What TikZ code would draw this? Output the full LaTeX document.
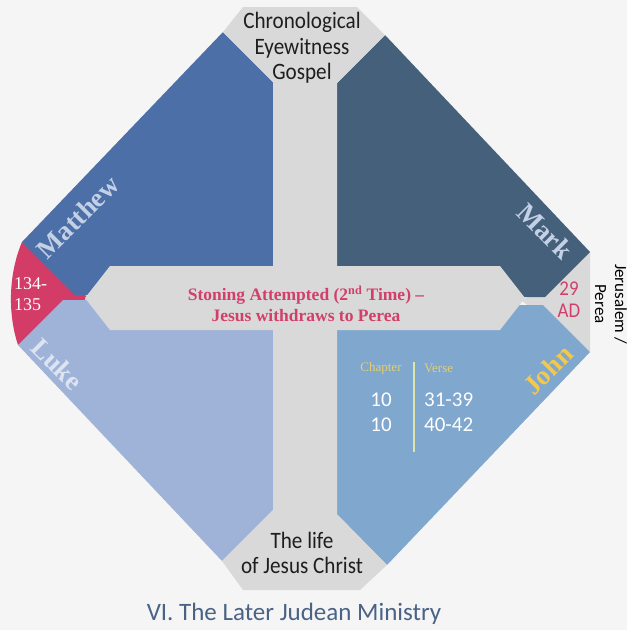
\documentclass[tikz,border=0pt]{standalone}
\usepackage{fontspec}
\setmainfont{Liberation Serif}
\newfontfamily\condsans[FakeStretch=0.9]{Carlito}
\newfontfamily\plainsans{Carlito}
\definecolor{bgc}{HTML}{F5F5F5}
\definecolor{grayc}{HTML}{D9D9D9}
\definecolor{redc}{HTML}{D23C66}
\definecolor{matc}{HTML}{4B6FA6}
\definecolor{markc}{HTML}{44607A}
\definecolor{lukec}{HTML}{9FB2D8}
\definecolor{johnc}{HTML}{80A7CE}
\definecolor{pinkc}{HTML}{D13F6A}
\definecolor{lbl}{HTML}{C3D0E6}
\definecolor{lukelbl}{HTML}{DCE4F2}
\definecolor{johnlbl}{HTML}{F2C94C}
\definecolor{yelc}{HTML}{E3CF6F}
\definecolor{divc}{HTML}{DDE5A8}
\definecolor{titlec}{HTML}{4A6385}
\definecolor{darktext}{HTML}{1E1E1E}
\begin{document}
\begin{tikzpicture}[x=1pt,y=-1pt,
  booklbl/.style={font=\bfseries\fontsize{27}{27}\selectfont, inner sep=0pt},
  captext/.style={font=\condsans\fontsize{23.5}{25.5}\selectfont, text=darktext, align=center, inner sep=0pt},
  numtext/.style={font=\plainsans\fontsize{21}{21}\selectfont, text=white, inner sep=0pt},
  headtext/.style={font=\fontsize{13}{13}\selectfont, text=yelc, inner sep=0pt}]
\fill[bgc] (0,0) rectangle (627,630);
\useasboundingbox (0,0) rectangle (627,630);
% end pieces
\fill[redc] (22,242) .. controls (8,275) and (8,315) .. (18,345) -- (88,297.5) -- cycle;
\fill[grayc] (522,301) -- (590,252) -- (590,352) -- cycle;
% quadrants
\fill[matc] (223,32) -- (280,89) -- (280,295) -- (75,295) -- (22,242) -- cycle;
\fill[markc] (385,35) -- (330,90) -- (330,297) -- (545,297) -- (590,252) -- cycle;
\fill[lukec] (18,345) -- (63,300) -- (280,300) -- (280,503) -- (222,561) -- cycle;
\fill[johnc] (330,305) -- (543,305) -- (590,352) -- (387,565) -- (330,508) -- cycle;
% gray cross
\fill[grayc] (243,7) -- (357,7) -- (385,35) -- (337,83) -- (337,514) -- (387,565)
  -- (360,590) -- (243,590) -- (222,561) -- (273,510) -- (273,82) -- (223,32) -- cycle;
\fill[grayc] (85,298) -- (110,266) -- (500,266) -- (525,298) -- (500,330) -- (110,330) -- cycle;
% texts
\node[captext] (topcap) at (302,48) {Chronological\\Eyewitness\\Gospel};
\node[captext] (botcap) at (302,553) {The life\\of Jesus Christ};
\node[font=\bfseries\fontsize{17.5}{21}\selectfont, text=pinkc, align=center, inner sep=0pt] (event) at (306,304)
  {Stoning Attempted (2\textsuperscript{nd} Time) --\\Jesus withdraws to Perea};
\node[booklbl, rotate=45, text=lbl] (matlbl) at (78,217) {Matthew};
\node[booklbl, rotate=-45, text=lbl] (marklbl) at (545,231) {Mark};
\node[booklbl, rotate=-45, text=lukelbl] (lukelbl) at (57,364) {Luke};
\node[booklbl, rotate=45, text=johnlbl] (johnlbl) at (548,370) {John};
\node[font=\fontsize{18}{21}\selectfont, text=white, align=left, anchor=west, inner sep=0pt] (years) at (14,294) {134-\\135};
\node[font=\condsans\fontsize{21}{22}\selectfont, text=pinkc, align=center, inner sep=0pt] (date) at (569,300) {29\\AD};
\node[font=\plainsans\fontsize{17}{20}\selectfont, text=black, align=center, rotate=-90, inner sep=0pt] (place) at (611,304) {Jerusalem /\\Perea};
\node[headtext] (chap) at (381,368) {Chapter};
\node[headtext, anchor=west] (verse) at (424,368) {Verse};
\node[numtext] (c1) at (381,400) {10};
\node[numtext] (c2) at (381,425) {10};
\node[numtext, anchor=west] (v1) at (424,400) {31-39};
\node[numtext, anchor=west] (v2) at (424,425) {40-42};
\coordinate (divtop) at (414,362);
\coordinate (divbot) at (414,452);
\draw[divc, line width=1.3pt] (divtop) -- (divbot);
\node[font=\plainsans\fontsize{25}{25}\selectfont, text=titlec, inner sep=0pt] (title) at (294,614) {VI. The Later Judean Ministry};
\end{tikzpicture}
\end{document}
